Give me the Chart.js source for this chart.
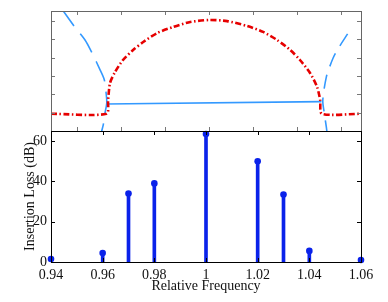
<!DOCTYPE html>
<html>
<head>
<meta charset="utf-8">
<script src="https://cdn.jsdelivr.net/npm/chart.js@4"></script>
<style>
  body { margin: 0; background: #fff; }
  #wrap { position: relative; width: 388px; height: 302px; }
  canvas { position: absolute; left: 0; top: 0; }
</style>
</head>
<body>
<div id="wrap">
  <canvas id="top" width="388" height="302"></canvas>
  <canvas id="bottom" width="388" height="302"></canvas>
</div>
<script>
// bottom panel: insertion loss stems
const freq = [0.94, 0.96, 0.97, 0.98, 1.0, 1.02, 1.03, 1.04, 1.06];
const loss = [1.5, 4.5, 34, 39, 63.5, 50, 33.5, 5.5, 1];
const freqTicks = [0.94, 0.96, 0.98, 1.0, 1.02, 1.04, 1.06];
const lossTicks = [0, 20, 40, 60];

// top panel (unlabelled axes)
const topTicksX = [0, 1, 2, 3, 4, 5, 6];
const topTicksY = [1, 2, 3, 4, 5, 6];
const maskX = [-0.6, 0.665, 0.70, 0.745, 0.86, 1.04, 1.27, 1.50, 1.82, 2.18, 2.57, 3.00, 3.41, 3.87, 4.23, 4.55, 4.85, 5.07, 5.30, 5.46, 5.53, 5.57, 6.46];
const maskY = [0.94, 0.94, 1.69, 2.62, 3.22, 3.87, 4.41, 4.85, 5.34, 5.67, 5.94, 6.05, 5.99, 5.72, 5.40, 4.96, 4.41, 3.87, 3.16, 2.40, 1.69, 0.94, 0.94];
const passX = [0.66, 5.56];
const passY = [1.47, 1.60];
const leftBranchX = [-0.37, -0.32, -0.075, 0.175, 0.335, 0.52, 0.615, 0.655, 0.67, 0.63, 0.59, 0.555, 0.54];
const leftBranchY = [6.70, 6.54, 5.72, 4.96, 4.25, 3.32, 2.78, 2.07, 1.53, 0.98, 0.33, 0, -0.16];
const rightBranchX = [6.155, 5.945, 5.825, 5.72, 5.67, 5.61, 5.59, 5.62, 5.67, 5.69];
const rightBranchY = [5.29, 4.51, 3.98, 3.32, 2.94, 2.13, 1.58, 1.04, 0.22, -0.16];

const serif = "'Liberation Serif', 'Times New Roman', serif";

function pts(xs, ys) {
    return xs.map((x, i) => ({ x: x, y: ys[i] }));
}

function fixedTicks(values) {
    return function (scale) {
        scale.ticks = values.map(v => ({ value: v }));
    };
}

// frame + inward tick marks, like the original figure
const frameTicks = {
    id: 'frameTicks',
    afterDatasetsDraw(chart, args, opts) {
        const { ctx, chartArea: a, scales } = chart;
        const len = 4;
        ctx.save();
        ctx.lineWidth = 1;
        ctx.strokeStyle = opts.color;
        ctx.beginPath();
        scales.x.ticks.forEach(t => {
            const px = Math.round(scales.x.getPixelForValue(t.value)) + 0.5;
            ctx.moveTo(px, a.bottom); ctx.lineTo(px, a.bottom - len);
            ctx.moveTo(px, a.top); ctx.lineTo(px, a.top + len);
        });
        scales.y.ticks.forEach(t => {
            const py = Math.round(scales.y.getPixelForValue(t.value)) + 0.5;
            ctx.moveTo(a.left, py); ctx.lineTo(a.left + len, py);
            ctx.moveTo(a.right, py); ctx.lineTo(a.right - len, py);
        });
        ctx.stroke();
        ctx.strokeStyle = opts.frame;
        ctx.strokeRect(Math.round(a.left) + 0.5, Math.round(a.top) + 0.5,
            Math.round(a.right - a.left), Math.round(a.bottom - a.top));
        ctx.restore();
    }
};

const hiddenAxis = {
    type: 'linear',
    ticks: { display: false },
    grid: { display: false, drawTicks: false },
    border: { display: false }
};

new Chart(document.getElementById('top'), {
    type: 'scatter',
    data: {
        datasets: [
            {
                data: pts(maskX, maskY),
                showLine: true,
                borderColor: '#e60000',
                borderWidth: 2.6,
                borderDash: [6, 2.5, 1.5, 2.5],
                pointRadius: 0,
                tension: 0.25
            },
            {
                data: pts(passX, passY),
                showLine: true,
                borderColor: '#3399ff',
                borderWidth: 1.6,
                pointRadius: 0
            },
            {
                data: pts(leftBranchX, leftBranchY),
                showLine: true,
                borderColor: '#3399ff',
                borderWidth: 1.6,
                borderDash: [22, 10],
                pointRadius: 0,
                tension: 0.3
            },
            {
                data: pts(rightBranchX, rightBranchY),
                showLine: true,
                borderColor: '#3399ff',
                borderWidth: 1.6,
                borderDash: [14, 9],
                pointRadius: 0,
                tension: 0.3
            }
        ]
    },
    options: {
        responsive: false,
        animation: false,
        layout: { padding: { left: 51, right: 27, top: 11, bottom: 171 } },
        plugins: {
            legend: { display: false },
            tooltip: { enabled: false },
            frameTicks: { color: '#777', frame: '#666' }
        },
        scales: {
            x: Object.assign({}, hiddenAxis, {
                min: -0.6, max: 6.46,
                afterBuildTicks: fixedTicks(topTicksX),
                afterFit: s => { s.height = 0; }
            }),
            y: Object.assign({}, hiddenAxis, {
                min: 0, max: 6.54,
                afterBuildTicks: fixedTicks(topTicksY),
                afterFit: s => { s.width = 0; }
            })
        }
    },
    plugins: [frameTicks]
});

const stemColor = '#0a22ea';
const stemPoints = pts(freq, loss);

new Chart(document.getElementById('bottom'), {
    type: 'bar',
    data: {
        datasets: [
            {
                type: 'bar',
                data: stemPoints,
                backgroundColor: stemColor,
                barThickness: 3
            },
            {
                type: 'scatter',
                data: stemPoints,
                pointRadius: 3.3,
                pointBackgroundColor: stemColor,
                pointBorderWidth: 0,
                clip: false
            }
        ]
    },
    options: {
        responsive: false,
        animation: false,
        layout: { padding: { left: 0, right: 27, top: 131, bottom: 0 } },
        plugins: {
            legend: { display: false },
            tooltip: { enabled: false },
            frameTicks: { color: '#000', frame: '#000' }
        },
        scales: {
            x: {
                type: 'linear',
                offset: false,
                min: 0.94, max: 1.06,
                afterBuildTicks: fixedTicks(freqTicks),
                afterFit: s => { s.height = 40; },
                grid: { display: false, drawTicks: false },
                border: { display: false },
                ticks: {
                    padding: 5,
                    color: '#111',
                    font: { family: serif, size: 14 },
                    maxRotation: 0,
                    callback: v => String(Number(v.toFixed(2)))
                },
                title: {
                    display: true,
                    text: 'Relative Frequency',
                    color: '#111',
                    font: { family: serif, size: 14 },
                    padding: { top: 7, bottom: 7 }
                }
            },
            y: {
                min: 0, max: 65,
                afterBuildTicks: fixedTicks(lossTicks),
                afterFit: s => { s.width = 51; },
                grid: { display: false, drawTicks: false },
                border: { display: false },
                ticks: {
                    padding: 4,
                    color: '#111',
                    font: { family: serif, size: 14 }
                },
                title: {
                    display: true,
                    text: 'Insertion Loss (dB)',
                    color: '#111',
                    font: { family: serif, size: 14 },
                    padding: { top: 22, bottom: 22 }
                }
            }
        }
    },
    plugins: [frameTicks]
});
</script>
</body>
</html>
